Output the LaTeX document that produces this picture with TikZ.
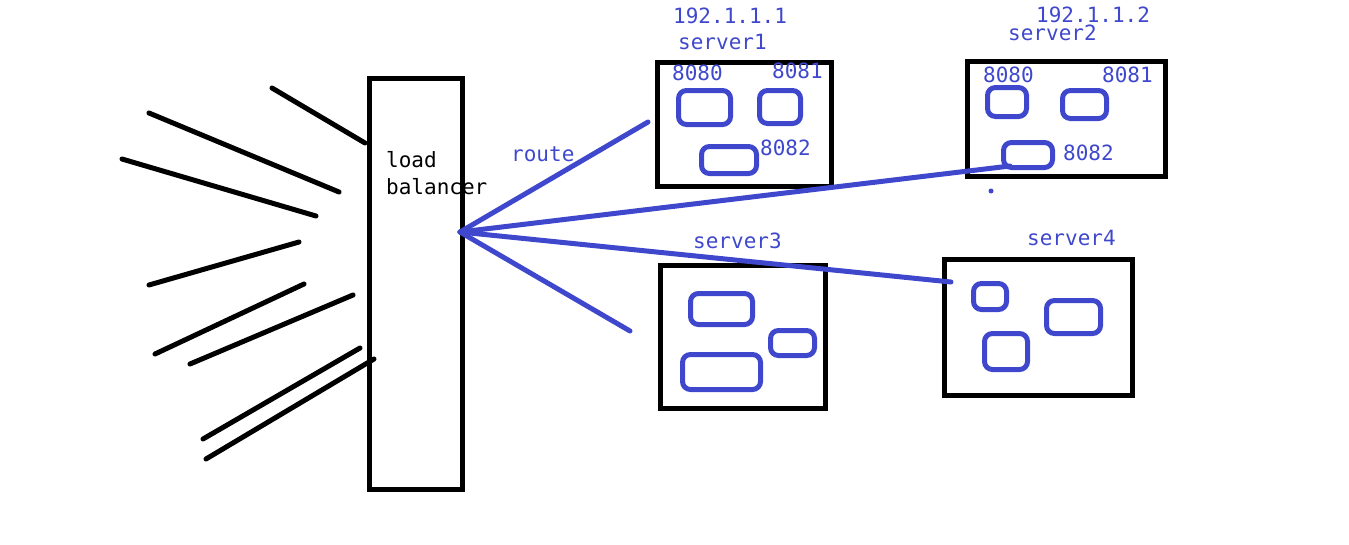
\documentclass[tikz,border=0pt]{standalone}
\usepackage{fontspec}
\newfontfamily\monofont{DejaVu Sans Mono}
\definecolor{pen}{HTML}{3F48CC}
\begin{document}
\begin{tikzpicture}[x=1pt,y=-1pt,
  frame/.style={draw=black,line width=5pt,inner sep=0pt},
  slot/.style={draw=pen,line width=5pt,rounded corners=8pt,inner sep=0pt},
  ray/.style={draw=black,line width=5pt,line cap=round},
  link/.style={draw=pen,line width=5pt,line cap=round},
  lbl/.style={anchor=base west,inner sep=0pt,font=\monofont\fontsize{21}{27}\selectfont},
  bluelbl/.style={lbl,text=pen}]
\useasboundingbox (0,0) rectangle (1349,544);

% load balancer
\node[frame,minimum width=93pt,minimum height=411pt] (lb) at (415.5,283.5) {};
\node[lbl] (lbt1) at (386,167) {load};
\node[lbl] (lbt2) at (386,194) {balancer};

% incoming requests
\foreach \i/\ax/\ay/\bx/\by in {1/272/88/365/143, 2/149/113/339/192, 3/122/159/316/216,
  4/149/285/299/242, 5/155/354/304/284, 6/190/364/353/295, 7/203/439/360/348, 8/206/459/374/359}{
  \coordinate (r\i a) at (\ax,\ay);
  \coordinate (r\i b) at (\bx,\by);
  \draw[ray] (r\i a) -- (r\i b);
}

% server1
\node[frame,minimum width=174pt,minimum height=124pt] (s1) at (744.5,124.5) {};
\node[slot,minimum width=52pt,minimum height=34pt] (s1a) at (704.5,107.5) {};
\node[slot,minimum width=41pt,minimum height=33pt] (s1b) at (780,107) {};
\node[slot,minimum width=55pt,minimum height=27pt] (s1c) at (729,160) {};
\node[bluelbl] (ip1) at (673,23) {192.1.1.1};
\node[bluelbl] (n1) at (678,49) {server1};
\node[bluelbl] (p1a) at (672,80) {8080};
\node[bluelbl] (p1b) at (772,78) {8081};
\node[bluelbl] (p1c) at (760,155) {8082};

% server2
\node[frame,minimum width=198pt,minimum height=115pt] (s2) at (1066,119) {};
\node[slot,minimum width=39pt,minimum height=29pt] (s2a) at (1007,102) {};
\node[slot,minimum width=44pt,minimum height=28pt] (s2b) at (1084.5,104.5) {};
\node[slot,minimum width=49pt,minimum height=25pt] (s2c) at (1028,155) {};
\node[bluelbl] (ip2) at (1036,22) {192.1.1.2};
\node[bluelbl] (n2) at (1008,40) {server2};
\node[bluelbl] (p2a) at (983,82) {8080};
\node[bluelbl] (p2b) at (1102,82) {8081};
\node[bluelbl] (p2c) at (1063,160) {8082};
\fill[pen] (991,191) circle (2.5pt);

% server3
\node[frame,minimum width=165pt,minimum height=143pt] (s3) at (742.5,336.5) {};
\node[slot,minimum width=62pt,minimum height=31pt] (s3a) at (721.5,309) {};
\node[slot,minimum width=44pt,minimum height=25pt] (s3b) at (792.5,343) {};
\node[slot,minimum width=78pt,minimum height=35pt] (s3c) at (721.5,372) {};
\node[bluelbl] (n3) at (693,248) {server3};

% server4
\node[frame,minimum width=188pt,minimum height=136pt] (s4) at (1038,327) {};
\node[slot,minimum width=33pt,minimum height=26pt] (s4a) at (990,296.5) {};
\node[slot,minimum width=54pt,minimum height=33pt] (s4b) at (1073.5,317) {};
\node[slot,minimum width=43pt,minimum height=36pt] (s4c) at (1006,351.5) {};
\node[bluelbl] (n4) at (1027,245) {server4};

% routes
\node[bluelbl] (route) at (511,161) {route};
\coordinate (hub) at (460,232);
\coordinate (e1) at (648,122);
\coordinate (e2) at (1010,166);
\coordinate (e3) at (630,331);
\coordinate (e4) at (951,282);
\draw[link] (hub) -- (e1);
\draw[link] (hub) -- (e2);
\draw[link] (hub) -- (e3);
\draw[link] (hub) -- (e4);
\end{tikzpicture}
\end{document}
